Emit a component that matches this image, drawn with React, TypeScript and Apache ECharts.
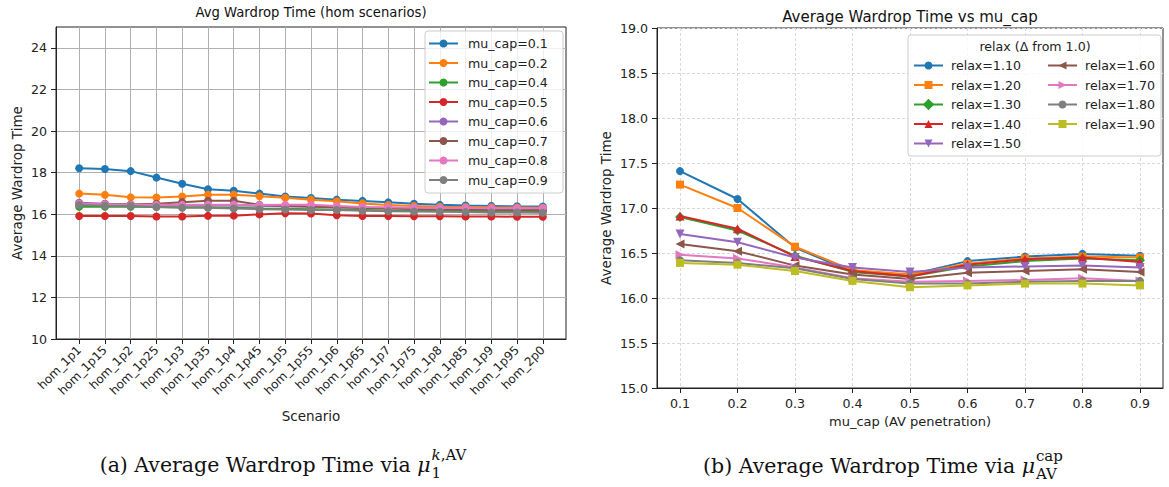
import React, { useEffect, useRef } from "react";
import * as echarts from "echarts";

// ---------- Left chart data ----------
const scenarios = [
  "hom_1p1", "hom_1p15", "hom_1p2", "hom_1p25", "hom_1p3", "hom_1p35", "hom_1p4",
  "hom_1p45", "hom_1p5", "hom_1p55", "hom_1p6", "hom_1p65", "hom_1p7", "hom_1p75",
  "hom_1p8", "hom_1p85", "hom_1p9", "hom_1p95", "hom_2p0",
];
const leftNames = [
  "mu_cap=0.1", "mu_cap=0.2", "mu_cap=0.4", "mu_cap=0.5",
  "mu_cap=0.6", "mu_cap=0.7", "mu_cap=0.8", "mu_cap=0.9",
];
const muCap01 = [18.21, 18.17, 18.07, 17.76, 17.46, 17.2, 17.13, 16.99, 16.85, 16.78, 16.7, 16.64, 16.57, 16.5, 16.45, 16.42, 16.4, 16.38, 16.37];
const muCap02 = [16.99, 16.93, 16.81, 16.8, 16.85, 16.94, 16.94, 16.86, 16.79, 16.7, 16.62, 16.52, 16.44, 16.39, 16.36, 16.35, 16.33, 16.32, 16.31];
const muCap04 = [16.36, 16.36, 16.36, 16.35, 16.34, 16.33, 16.31, 16.28, 16.26, 16.24, 16.22, 16.2, 16.18, 16.17, 16.16, 16.15, 16.15, 16.14, 16.14];
const muCap05 = [15.91, 15.91, 15.91, 15.89, 15.89, 15.92, 15.93, 15.99, 16.04, 16.03, 15.95, 15.91, 15.91, 15.9, 15.9, 15.89, 15.89, 15.88, 15.88];
const muCap06 = [16.55, 16.5, 16.47, 16.45, 16.44, 16.43, 16.42, 16.4, 16.38, 16.36, 16.34, 16.32, 16.3, 16.28, 16.27, 16.26, 16.25, 16.25, 16.24];
const muCap07 = [16.5, 16.49, 16.47, 16.5, 16.58, 16.65, 16.65, 16.45, 16.4, 16.37, 16.33, 16.3, 16.27, 16.25, 16.23, 16.22, 16.21, 16.2, 16.2];
const muCap08 = [16.5, 16.48, 16.46, 16.45, 16.45, 16.46, 16.46, 16.44, 16.45, 16.45, 16.39, 16.35, 16.33, 16.31, 16.3, 16.3, 16.29, 16.29, 16.29];
const muCap09 = [16.44, 16.41, 16.39, 16.35, 16.31, 16.31, 16.27, 16.24, 16.22, 16.2, 16.2, 16.16, 16.14, 16.13, 16.12, 16.1, 16.08, 16.08, 16.07];
const leftValues = [muCap01, muCap02, muCap04, muCap05, muCap06, muCap07, muCap08, muCap09];
const leftYTicks = [10, 12, 14, 16, 18, 20, 22, 24];

// ---------- Right chart data ----------
const muCapValues = [0.1, 0.2, 0.3, 0.4, 0.5, 0.6, 0.7, 0.8, 0.9];
const relaxNames = [
  "relax=1.10", "relax=1.20", "relax=1.30", "relax=1.40", "relax=1.50",
  "relax=1.60", "relax=1.70", "relax=1.80", "relax=1.90",
];
const relax110 = [17.41, 17.1, 16.56, 16.29, 16.26, 16.41, 16.46, 16.49, 16.47];
const relax120 = [17.26, 17.0, 16.57, 16.31, 16.26, 16.38, 16.44, 16.46, 16.45];
const relax130 = [16.9, 16.75, 16.47, 16.29, 16.24, 16.35, 16.41, 16.44, 16.42];
const relax140 = [16.91, 16.77, 16.46, 16.3, 16.24, 16.37, 16.43, 16.45, 16.4];
const relax150 = [16.71, 16.62, 16.45, 16.34, 16.29, 16.34, 16.35, 16.36, 16.34];
const relax160 = [16.6, 16.52, 16.36, 16.26, 16.21, 16.28, 16.3, 16.32, 16.29];
const relax170 = [16.48, 16.44, 16.34, 16.22, 16.18, 16.19, 16.2, 16.22, 16.19];
const relax180 = [16.42, 16.39, 16.33, 16.21, 16.16, 16.16, 16.18, 16.19, 16.19];
const relax190 = [16.39, 16.37, 16.3, 16.19, 16.12, 16.14, 16.16, 16.16, 16.14];
const rightValues = [relax110, relax120, relax130, relax140, relax150, relax160, relax170, relax180, relax190];
const rightXTicks = [0.1, 0.2, 0.3, 0.4, 0.5, 0.6, 0.7, 0.8, 0.9];

// ---------- Styles ----------
const COLORS = ["#1f77b4", "#ff7f0e", "#2ca02c", "#d62728", "#9467bd", "#8c564b", "#e377c2", "#7f7f7f", "#bcbd22"];
const RIGHT_SYMBOLS = [
  { symbol: "circle", rotate: 0, size: 8 },
  { symbol: "rect", rotate: 0, size: 8 },
  { symbol: "rect", rotate: 45, size: 7 },
  { symbol: "triangle", rotate: 0, size: 9 },
  { symbol: "triangle", rotate: 180, size: 9 },
  { symbol: "triangle", rotate: 90, size: 9 },
  { symbol: "triangle", rotate: -90, size: 9 },
  { symbol: "circle", rotate: 0, size: 8 },
  { symbol: "rect", rotate: 0, size: 8 },
];
const SANS = "'DejaVu Sans', sans-serif";
const SERIF = "'DejaVu Serif', 'Liberation Serif', serif";
const AXIS_COLOR = "#222";
const TEXT_COLOR = "#222";
const TICK_SIZE = 12.6;
const NAME_SIZE = 13.5;

function measure(text: string, font: string): number {
  const c = document.createElement("canvas");
  const ctx = c.getContext("2d");
  if (!ctx) return text.length * 8;
  ctx.font = font;
  return ctx.measureText(text).width;
}

function caption(
  center: number, y: number, main: string, sup: string, supRich: string, sub: string,
) {
  const mainSize = 20.5;
  const scriptSize = 15;
  const mainFont = `${mainSize}px ${SERIF}`;
  const muFont = `italic ${mainSize}px ${SERIF}`;
  const scriptFont = `${scriptSize}px ${SERIF}`;
  const wMain = measure(main, mainFont);
  const wMu = measure("μ", muFont) + 1;
  const wScript = Math.max(measure(sup, scriptFont), measure(sub, scriptFont));
  const total = wMain + wMu + wScript;
  const x0 = center - total / 2;
  const fill = "#111";
  return [
    {
      type: "text", x: x0, y,
      style: { text: main, fontSize: mainSize, fontFamily: SERIF, fill, align: "left", verticalAlign: "middle" },
    },
    {
      type: "text", x: x0 + wMain, y,
      style: { text: "μ", fontSize: mainSize, fontStyle: "italic", fontFamily: SERIF, fill, align: "left", verticalAlign: "middle" },
    },
    {
      type: "text", x: x0 + wMain + wMu, y: y - 10,
      style: {
        text: supRich,
        rich: {
          i: { fontStyle: "italic", fontSize: scriptSize, fontFamily: SERIF, fill },
          r: { fontSize: scriptSize, fontFamily: SERIF, fill },
        },
        fontSize: scriptSize, fontFamily: SERIF, fill, align: "left", verticalAlign: "middle",
      },
    },
    {
      type: "text", x: x0 + wMain + wMu, y: y + 8,
      style: { text: sub, fontSize: scriptSize, fontFamily: SERIF, fill, align: "left", verticalAlign: "middle" },
    },
  ];
}

export default function App() {
  const ref = useRef<HTMLDivElement>(null);

  useEffect(() => {
    if (!ref.current) return;
    const chart = echarts.init(ref.current, undefined, { renderer: "svg" });

    const leftXTickValues = scenarios.map((_, i) => i);

    const leftSeries = leftValues.map((vals, k) => ({
      name: leftNames[k],
      type: "line",
      xAxisIndex: 0,
      yAxisIndex: 0,
      data: vals.map((v, i) => [i, v]),
      symbol: "circle",
      symbolSize: 8,
      lineStyle: { width: 2, color: COLORS[k] },
      itemStyle: { color: COLORS[k] },
      emphasis: { disabled: true },
      z: 3 + k * 0.01,
    }));

    const rightSeries = rightValues.map((vals, k) => ({
      name: relaxNames[k],
      type: "line",
      xAxisIndex: 1,
      yAxisIndex: 1,
      data: vals.map((v, i) => [muCapValues[i], v]),
      symbol: RIGHT_SYMBOLS[k].symbol,
      symbolSize: RIGHT_SYMBOLS[k].size,
      symbolRotate: RIGHT_SYMBOLS[k].rotate,
      lineStyle: { width: 2, color: COLORS[k] },
      itemStyle: { color: COLORS[k] },
      emphasis: { disabled: true },
      z: 3 + k * 0.01,
    }));

    const tickLabelStyle = { fontSize: TICK_SIZE, fontFamily: SANS, color: TEXT_COLOR };
    const nameStyle = { fontSize: NAME_SIZE, fontFamily: SANS, color: TEXT_COLOR };
    const legendText = { fontSize: TICK_SIZE, fontFamily: SANS, color: TEXT_COLOR };

    const option: any = {
      animation: false,
      backgroundColor: "#ffffff",
      grid: [
        { left: 56, top: 27, width: 510, height: 312, show: true, borderColor: AXIS_COLOR, borderWidth: 1, backgroundColor: "transparent" },
        { left: 657, top: 28, width: 506, height: 360, show: true, borderColor: AXIS_COLOR, borderWidth: 1, backgroundColor: "transparent" },
      ],
      xAxis: [
        {
          type: "value", gridIndex: 0, min: -0.9, max: 18.9,
          axisLine: { show: true, onZero: false, lineStyle: { color: AXIS_COLOR } },
          axisTick: { show: true, customValues: leftXTickValues, length: 5, lineStyle: { color: AXIS_COLOR } },
          axisLabel: {
            customValues: leftXTickValues, rotate: 45, margin: 9,
            formatter: (v: number) => scenarios[Math.round(v)] ?? "",
            ...tickLabelStyle, fontSize: 12,
          },
          splitLine: { show: true, lineStyle: { color: "#b0b0b0", width: 1 } },
          name: "Scenario", nameLocation: "middle", nameGap: 70, nameTextStyle: nameStyle,
        },
        {
          type: "value", gridIndex: 1, min: 0.06, max: 0.94,
          axisLine: { show: true, onZero: false, lineStyle: { color: AXIS_COLOR } },
          axisTick: { show: true, customValues: rightXTicks, length: 5, lineStyle: { color: AXIS_COLOR } },
          axisLabel: { customValues: rightXTicks, margin: 9, formatter: (v: number) => v.toFixed(1), ...tickLabelStyle },
          splitLine: { show: true, lineStyle: { color: "#d9d9d9", width: 1, type: [3, 2] } },
          name: "mu_cap (AV penetration)", nameLocation: "middle", nameGap: 25, nameTextStyle: { ...nameStyle, fontSize: 13 },
        },
      ],
      yAxis: [
        {
          type: "value", gridIndex: 0, min: 10, max: 25,
          axisLine: { show: true, onZero: false, lineStyle: { color: AXIS_COLOR } },
          axisTick: { show: true, customValues: leftYTicks, length: 5, lineStyle: { color: AXIS_COLOR } },
          axisLabel: { customValues: leftYTicks, margin: 9, ...tickLabelStyle },
          splitLine: { show: true, lineStyle: { color: "#b0b0b0", width: 1 } },
          name: "Average Wardrop Time", nameLocation: "middle", nameGap: 32, nameTextStyle: nameStyle,
        },
        {
          type: "value", gridIndex: 1, min: 15, max: 19, interval: 0.5,
          axisLine: { show: true, onZero: false, lineStyle: { color: AXIS_COLOR } },
          axisTick: { show: true, length: 5, lineStyle: { color: AXIS_COLOR } },
          axisLabel: { margin: 9, formatter: (v: number) => v.toFixed(1), ...tickLabelStyle },
          splitLine: { show: true, lineStyle: { color: "#d9d9d9", width: 1, type: [3, 2] } },
          name: "Average Wardrop Time", nameLocation: "middle", nameGap: 44, nameTextStyle: nameStyle,
        },
      ],
      legend: [
        {
          orient: "vertical", left: 428, top: 37, padding: 0,
          itemWidth: 29, itemHeight: 10, itemGap: 6.5,
          data: leftNames, selectedMode: false,
          textStyle: { ...legendText, padding: [0, 0, 0, 5] }, z: 6,
        },
        {
          orient: "vertical", left: 913, top: 59, padding: 0,
          itemWidth: 29, itemHeight: 10, itemGap: 6.5,
          data: relaxNames.slice(0, 5), selectedMode: false,
          textStyle: { ...legendText, padding: [0, 0, 0, 3] }, z: 6,
        },
        {
          orient: "vertical", left: 1047, top: 59, padding: 0,
          itemWidth: 29, itemHeight: 10, itemGap: 6.5,
          data: relaxNames.slice(5), selectedMode: false,
          textStyle: { ...legendText, padding: [0, 0, 0, 3] }, z: 6,
        },
      ],
      graphic: [
        {
          type: "rect", z: 5, shape: { x: 425, y: 31, width: 138, height: 162, r: 3 },
          style: { fill: "rgba(255,255,255,0.8)", stroke: "#cccccc", lineWidth: 1 },
        },
        {
          type: "rect", z: 5, shape: { x: 908, y: 35, width: 253, height: 121, r: 3 },
          style: { fill: "rgba(255,255,255,0.8)", stroke: "#cccccc", lineWidth: 1 },
        },
        {
          type: "text", z: 6, x: 1035, y: 46,
          style: { text: "relax (Δ from 1.0)", fontSize: TICK_SIZE, fontFamily: SANS, fill: TEXT_COLOR, align: "center", verticalAlign: "middle" },
        },
        {
          type: "text", x: 311, y: 12,
          style: { text: "Avg Wardrop Time (hom scenarios)", fontSize: 13.2, fontFamily: SANS, fill: "#111", align: "center", verticalAlign: "middle" },
        },
        {
          type: "text", x: 910, y: 17,
          style: { text: "Average Wardrop Time vs mu_cap", fontSize: 15, fontFamily: SANS, fill: "#111", align: "center", verticalAlign: "middle" },
        },
        ...caption(283, 465, "(a) Average Wardrop Time via ", "k,AV", "{i|k}{r|,AV}", "1"),
        ...caption(883, 466, "(b) Average Wardrop Time via ", "cap", "{r|cap}", "AV"),
      ],
      series: [...leftSeries, ...rightSeries],
    };

    chart.setOption(option);
    return () => chart.dispose();
  }, []);

  return (
    <div
      ref={ref}
      style={{ position: "fixed", left: 0, top: 0, width: 1169, height: 487, background: "#fff" }}
    />
  );
}
